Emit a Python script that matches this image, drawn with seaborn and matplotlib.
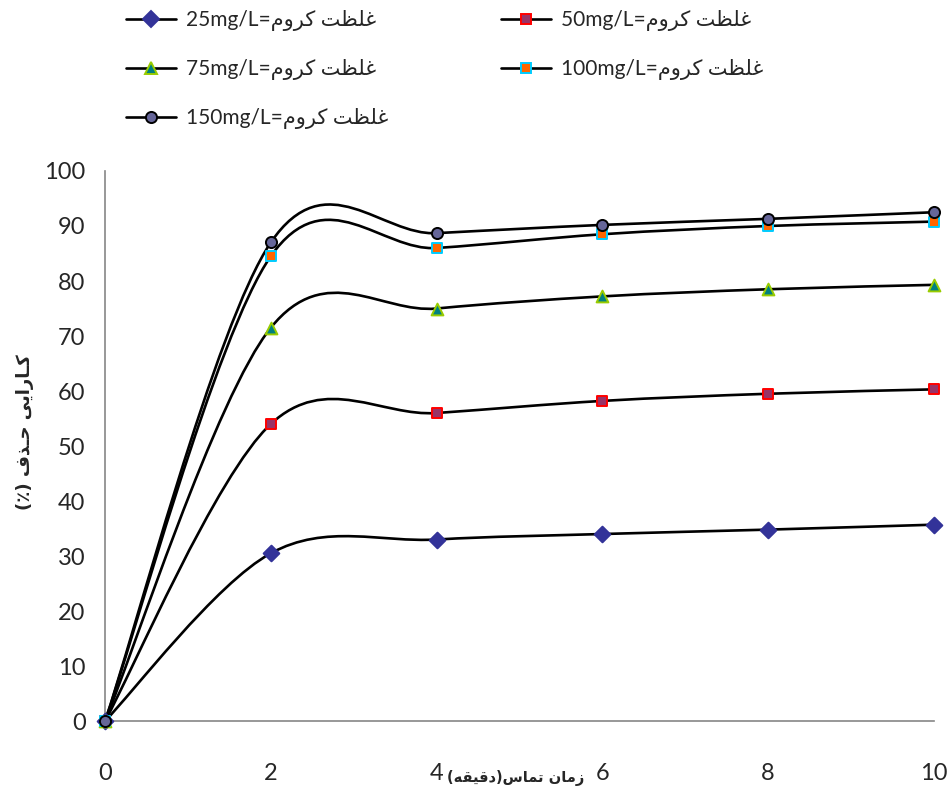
import numpy as np
import matplotlib
matplotlib.use('Agg')
import matplotlib.pyplot as plt
from matplotlib.path import Path
from matplotlib.patches import PathPatch
from matplotlib.lines import Line2D
from matplotlib.ticker import MultipleLocator
import seaborn as sns

# داده ها: زمان تماس (دقیقه) و کارایی حذف (%)
time_min = [0, 2, 4, 6, 8, 10]
removal_25 = [0, 30.5, 33.0, 34.0, 34.8, 35.7]
removal_50 = [0, 54.0, 56.0, 58.2, 59.5, 60.3]
removal_75 = [0, 71.5, 75.0, 77.2, 78.5, 79.3]
removal_100 = [0, 84.5, 86.0, 88.5, 90.0, 90.8]
removal_150 = [0, 87.0, 88.7, 90.2, 91.3, 92.5]
conc_labels = ['25', '50', '75', '100', '150']

# متن فارسی به صورت شکل های نمایشی و ترتیب دیداری (matplotlib شکل دهی عربی ندارد)
krom = '\uFEE1\uFEED\uFEAE\uFB90'          # کروم
ghelzat = '\uFE96\uFEC8\uFEE0\uFECF'       # غلظت
legend_labels = [c + 'mg/L=' + krom + ' ' + ghelzat for c in conc_labels]
ylabel_text = '(\u066A) ' + '\uFED1\uFEAC\u0640\uFEA3' + ' ' + '\uFBFD\uFBFE\uFE8D\uFEAD\uFE8E\u0640\uFB90'
xlabel_text = '(' + '\uFEEA\uFED8\uFBFF\uFED7\uFEA9' + ')' + '\uFEB1\uFE8E\uFEE4\uFE97' + ' ' + '\uFEE5\uFE8E\uFEE3\uFEAF'

series = [removal_25, removal_50, removal_75, removal_100, removal_150]
markers = ['D', 's', '^', 's', 'o']
faces = ['#333399', '#993366', '#008080', '#FF6600', '#666699']
edges = ['#333399', '#FF0000', '#99CC00', '#00CCFF', '#000000']
msizes = [8, 7.5, 8.5, 7.5, 8]

sns.set_style('white')
plt.rcParams['font.family'] = ['Lato', 'DejaVu Sans']


def smooth_path(x, y):
    # منحنی هموار شبیه اکسل (بزیه مکعبی)
    pts = np.column_stack([x, y]).astype(float)
    n = len(pts)
    verts = [pts[0]]
    codes = [Path.MOVETO]
    for i in range(n - 1):
        p0 = pts[i - 1] if i > 0 else pts[i]
        p3 = pts[i + 2] if i + 2 < n else pts[i + 1]
        c1 = pts[i] + (pts[i + 1] - p0) / 6
        c2 = pts[i + 1] - (p3 - pts[i]) / 6
        verts += [c1, c2, pts[i + 1]]
        codes += [Path.CURVE4] * 3
    return Path(verts, codes)


fig = plt.figure(figsize=(9.51, 7.92), dpi=100)
ax = fig.add_axes([0.1104, 0.0896, 0.8717, 0.6945])

for vals in series:
    ax.add_patch(PathPatch(smooth_path(time_min, vals), facecolor='none',
                           edgecolor='black', lw=1.9, zorder=2))

for i, vals in enumerate(series):
    sns.scatterplot(x=time_min, y=vals, marker=markers[i], s=msizes[i] ** 2,
                    color=faces[i], edgecolor=edges[i], linewidth=1.4,
                    ax=ax, zorder=3 + i, legend=False, clip_on=False)

ax.set_xlim(0, 10)
ax.set_ylim(0, 100)
ax.xaxis.set_major_locator(MultipleLocator(2))
ax.xaxis.set_minor_locator(MultipleLocator(0.4))
ax.yaxis.set_major_locator(MultipleLocator(10))

for side in ['top', 'right']:
    ax.spines[side].set_visible(False)
for side in ['left', 'bottom']:
    ax.spines[side].set_color('#868686')
    ax.spines[side].set_linewidth(1.2)

ax.tick_params(axis='x', which='major', direction='inout', length=16, width=1.2,
               color='#868686', labelsize=17, pad=22)
ax.tick_params(axis='x', which='minor', direction='in', length=6, width=1.2,
               color='#868686')
ax.tick_params(axis='y', which='major', direction='out', length=6, width=1.2,
               color='#868686', labelsize=17, pad=8)
ax.set_xlabel('')
ax.set_ylabel('')

fig.text(0.5426, 0.018, xlabel_text, fontsize=10.5, fontweight='bold',
         ha='center', va='center', family='DejaVu Sans')
fig.text(0.026, 0.4545, ylabel_text, fontsize=13, fontweight='bold', rotation=90,
         ha='center', va='center', family='DejaVu Sans')

handles = []
for i in range(5):
    handles.append(Line2D([], [], color='black', lw=1.9, marker=markers[i],
                          markersize=msizes[i], markerfacecolor=faces[i],
                          markeredgecolor=edges[i], markeredgewidth=1.4))
order = [0, 2, 4, 1, 3]
fig.legend([handles[k] for k in order], [legend_labels[k] for k in order],
           ncol=2, loc='upper left', bbox_to_anchor=(0.1125, 1.011), frameon=False,
           fontsize=15, handlelength=2.4, handletextpad=0.5, columnspacing=5.4,
           labelspacing=1.35)

fig.savefig('out.png', dpi=100)
